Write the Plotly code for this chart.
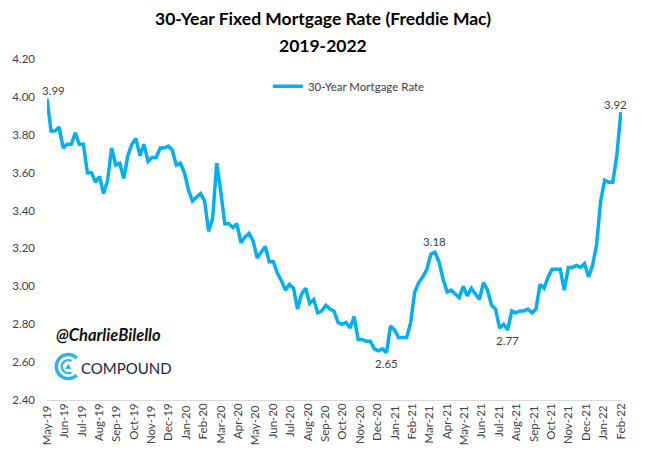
import numpy as np
import pandas as pd
import plotly.graph_objects as go

# ---------------- data ----------------
start_date = "2019-05-30"
rates_2019 = [3.99, 3.82, 3.82, 3.84, 3.73, 3.75, 3.75, 3.81, 3.75, 3.75, 3.60, 3.60,
              3.55, 3.58, 3.49, 3.56, 3.73, 3.64, 3.65, 3.57, 3.69, 3.75, 3.78, 3.69,
              3.75, 3.66, 3.68, 3.68, 3.73, 3.73, 3.74]
rates_2020 = [3.72, 3.64, 3.65, 3.60, 3.51, 3.45, 3.47, 3.49, 3.45, 3.29, 3.36, 3.65,
              3.50, 3.33, 3.33, 3.31, 3.33, 3.23, 3.26, 3.28, 3.24, 3.15, 3.18, 3.21,
              3.13, 3.13, 3.07, 3.03, 2.98, 3.01, 2.99, 2.88, 2.96, 2.99, 2.91, 2.93,
              2.86, 2.87, 2.90, 2.88, 2.87, 2.81, 2.80, 2.81, 2.78, 2.84, 2.72, 2.72,
              2.71, 2.71, 2.67, 2.66, 2.67]
rates_2021 = [2.65, 2.79, 2.77, 2.73, 2.73, 2.73, 2.81, 2.97, 3.02, 3.05, 3.09, 3.17,
              3.18, 3.13, 3.04, 2.97, 2.98, 2.96, 2.94, 3.00, 2.95, 2.99, 2.96, 2.93,
              3.02, 2.98, 2.90, 2.88, 2.78, 2.80, 2.77, 2.87, 2.86, 2.87, 2.87, 2.88,
              2.86, 2.88, 3.01, 2.99, 3.05, 3.09, 3.09, 3.09, 2.98, 3.10, 3.10, 3.11,
              3.10, 3.12, 3.05, 3.11]
rates_2022 = [3.22, 3.45, 3.56, 3.55, 3.55, 3.69, 3.92]

tick_labels = ["May-19", "Jun-19", "Jul-19", "Aug-19", "Sep-19", "Oct-19", "Nov-19",
               "Dec-19", "Jan-20", "Feb-20", "Mar-20", "Apr-20", "May-20", "Jun-20",
               "Jul-20", "Aug-20", "Sep-20", "Oct-20", "Nov-20", "Dec-20", "Jan-21",
               "Feb-21", "Mar-21", "Apr-21", "May-21", "Jun-21", "Jul-21", "Aug-21",
               "Sep-21", "Oct-21", "Nov-21", "Dec-21", "Jan-22", "Feb-22"]
y_ticks = [2.40, 2.60, 2.80, 3.00, 3.20, 3.40, 3.60, 3.80, 4.00, 4.20]

rates = rates_2019 + rates_2020 + rates_2021 + rates_2022
dates = pd.date_range(start=start_date, periods=len(rates), freq="7D")
tick_vals = list(pd.date_range(start=dates[0], end=dates[-1], periods=len(tick_labels)))

LINE = "#00B0F0"
TXT = "#404040"
FONT = "Lato"
x_range = [dates[0], dates[-1] + pd.Timedelta(days=2)]

fig = go.Figure()
fig.add_trace(go.Scatter(x=dates, y=rates, mode="lines", name="30-Year Mortgage Rate",
                         line=dict(color=LINE, width=3.5)))
# invisible twin so the second (interleaved-label) x axis is drawn
fig.add_trace(go.Scatter(x=dates, y=rates, mode="lines", xaxis="x2", showlegend=False,
                         hoverinfo="skip", line=dict(color="rgba(0,0,0,0)", width=0)))

# data labels
s = pd.Series(rates, index=dates)
def pos(ts):
    return s.index.get_loc(ts)
i_first = 0
i_last = len(rates) - 1
i_peak = pos(s["2021-02-01":"2021-06-01"].idxmax())
i_low = pos(s["2020-11-01":"2021-02-01"].idxmin())
i_jul = pos(s["2021-06-15":"2021-09-01"].idxmin())
for idx, yshift, xshift in [(i_first, 8, 6), (i_peak, 11, 0), (i_low, -11, 0),
                            (i_jul, -11, 0), (i_last, 8, -5)]:
    fig.add_annotation(x=dates[idx], y=rates[idx], text=f"{rates[idx]:.2f}",
                       showarrow=False, yshift=yshift, xshift=xshift,
                       font=dict(family=FONT, size=11.5, color=TXT))

# titles
fig.add_annotation(xref="paper", yref="paper", x=0.48, y=1.0, yshift=41, yanchor="middle",
                   text="<b>30-Year Fixed Mortgage Rate (Freddie Mac)</b>", showarrow=False,
                   font=dict(family=FONT, size=17.5, color="#000000"))
fig.add_annotation(xref="paper", yref="paper", x=0.48, y=1.0, yshift=14, yanchor="middle",
                   text="<b>2019-2022</b>", showarrow=False,
                   font=dict(family=FONT, size=17.5, color="#000000"))

# watermark
fig.add_annotation(xref="paper", yref="paper", x=0.013, y=0.19, xanchor="left",
                   yanchor="middle", text="<b><i>@CharlieBilello</i></b>", showarrow=False,
                   font=dict(family=FONT, size=16.5, color="#111111"))
fig.add_annotation(xref="paper", yref="paper", x=0.055, y=0.094, xanchor="left",
                   yanchor="middle", text="COMPOUND", showarrow=False,
                   font=dict(family=FONT, size=15, color="#1c2541"))

# logo
def arc_path(r, a0, a1, n=40):
    t = np.radians(np.linspace(a0, a1, n))
    pts = [f"{r*np.cos(a):.2f},{r*np.sin(a):.2f}" for a in t]
    return "M" + " L".join(pts)

lx, ly = 0.037, 0.098
logo_c = "#29b5ea"
fig.add_shape(type="path", xref="paper", yref="paper", xsizemode="pixel", ysizemode="pixel",
              xanchor=lx, yanchor=ly, path=arc_path(12, 45, 315),
              line=dict(color=logo_c, width=3.5))
fig.add_shape(type="path", xref="paper", yref="paper", xsizemode="pixel", ysizemode="pixel",
              xanchor=lx, yanchor=ly, path=arc_path(6.5, 60, 300),
              line=dict(color=logo_c, width=2.2))
fig.add_shape(type="path", xref="paper", yref="paper", xsizemode="pixel", ysizemode="pixel",
              xanchor=lx, yanchor=ly, path="M-2.2,-1.8 L2.2,-1.8 L0,2.2 Z",
              line=dict(color=logo_c, width=1), fillcolor=logo_c)

tickfont = dict(family=FONT, size=11.5, color=TXT)
fig.update_layout(
    width=638, height=453,
    margin=dict(l=39, r=24, t=51, b=61),
    paper_bgcolor="white", plot_bgcolor="white",
    font=dict(family=FONT, size=11, color=TXT),
    showlegend=True,
    legend=dict(orientation="h", x=0.525, y=0.92, xanchor="center", yanchor="middle",
                font=dict(family=FONT, size=11.5, color=TXT), bgcolor="rgba(0,0,0,0)",
                itemwidth=30),
    xaxis=dict(range=x_range, tickvals=tick_vals[0::2], ticktext=tick_labels[0::2],
               tickangle=-90, showgrid=False, zeroline=False, showline=True,
               linecolor="#d9d9d9", linewidth=1, ticks="", tickfont=tickfont,
               automargin=False),
    xaxis2=dict(range=x_range, overlaying="x", anchor="y", side="bottom",
                tickvals=tick_vals[1::2], ticktext=tick_labels[1::2],
                tickangle=-90, showgrid=False, zeroline=False, showline=False,
                ticks="", tickfont=tickfont, automargin=False),
    yaxis=dict(range=[2.40, 4.20], tickvals=y_ticks, tickformat=".2f",
               showgrid=False, zeroline=False, showline=False, ticks="",
               ticklabelstandoff=11, tickfont=tickfont, automargin=False),
)

fig.write_html("out.html")
